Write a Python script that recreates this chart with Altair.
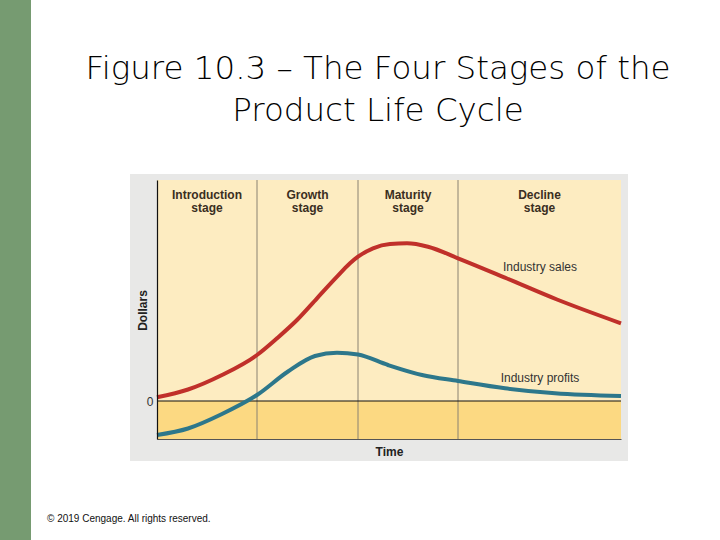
import altair as alt
import pandas as pd

# ---------------- data ----------------
title_text = "Figure 10.3 – The Four Stages of the\nProduct Life Cycle"
footer_text = "© 2019 Cengage. All rights reserved."

stage_names = ["Introduction\nstage", "Growth\nstage", "Maturity\nstage", "Decline\nstage"]
stage_bounds = [0, 100, 201, 301, 464]

sales_t = [0, 31, 65, 100, 120, 140, 160, 180, 193, 201, 216, 233, 250, 271, 301, 350, 400, 464]
sales_v = [3.7, 11.5, 26, 46, 62.7, 81, 102.7, 124.3, 137.7, 144.3, 152.7, 157, 157.7, 154.3, 142.7, 122.5, 101.5, 77.7]
profit_t = [0, 31, 65, 100, 131, 158, 180, 201, 231, 265, 301, 348, 398, 464]
profit_v = [-34, -27.5, -13, 6, 29.5, 45, 48.3, 46.5, 36, 26, 20, 12.7, 7.7, 5]

series_names = ["Industry sales", "Industry profits"]
series_colors = ["#c0302a", "#2d778b"]
label_t = [383, 383]
label_v = [134, 23]

x_domain = [0, 464]
y_domain = [-38, 221]

# ---------------- tables ----------------
stages = pd.DataFrame({
    "stage": stage_names,
    "start": stage_bounds[:-1],
    "end": stage_bounds[1:],
})
stages["mid"] = (stages["start"] + stages["end"]) / 2
dividers = pd.DataFrame({"t": stage_bounds[1:-1]})

lines = pd.concat([
    pd.DataFrame({"series": series_names[0], "t": sales_t, "v": sales_v}),
    pd.DataFrame({"series": series_names[1], "t": profit_t, "v": profit_v}),
], ignore_index=True)
labels = pd.DataFrame({"series": series_names, "t": label_t, "v": label_v})
one = pd.DataFrame({"k": [0]})

FONT = "Liberation Sans"
W, H = 464, 259

xs = alt.Scale(domain=x_domain, nice=False, zero=False)
ys = alt.Scale(domain=y_domain, nice=False, zero=False)

x_axis = alt.Axis(title="Time", labels=False, ticks=False, grid=False,
                  domainColor="#555555", domainWidth=1.2, zindex=1,
                  titleFont=FONT, titleFontSize=12, titleFontWeight="bold",
                  titleColor="#222222", titleBaseline="top", titleY=7)
y_axis = alt.Axis(title="Dollars", values=[0], ticks=False, grid=False,
                  domainColor="#111111", domainWidth=1.2, zindex=1,
                  labelFont=FONT, labelFontSize=12, labelColor="#333333", labelPadding=4,
                  titleFont=FONT, titleFontSize=12, titleFontWeight="bold",
                  titleColor="#222222", titleAngle=270, titleAlign="center",
                  titleBaseline="alphabetic", titleX=-11, titleY=130)

# decorations
green_bar = alt.Chart(one).mark_rect(color="#769b71").encode(
    x=alt.value(-157), x2=alt.value(-126), y=alt.value(-180), y2=alt.value(360))
panel = alt.Chart(one).mark_rect(color="#e8e8e7").encode(
    x=alt.value(-27), x2=alt.value(471), y=alt.value(-6), y2=alt.value(281))
title = alt.Chart(one).mark_text(
    text=title_text, lineBreak="\n", lineHeight=42, font="DejaVu Sans", fontSize=32.5,
    fontWeight=200, color="#000000", align="center", baseline="alphabetic").encode(
    x=alt.value(221), y=alt.value(-101))
footer = alt.Chart(one).mark_text(
    text=footer_text, font=FONT, fontSize=10, color="#111111",
    align="left", baseline="middle").encode(
    x=alt.value(-110), y=alt.value(339))

# plot area
upper = alt.Chart(stages).mark_rect(color="#fdecc1").encode(
    x=alt.X("start:Q", scale=xs, axis=x_axis), x2="end:Q",
    y=alt.Y(datum=0, scale=ys, axis=y_axis), y2=alt.value(0))
lower = alt.Chart(stages).mark_rect(color="#fcd982").encode(
    x=alt.X("start:Q", scale=xs), x2="end:Q",
    y=alt.Y(datum=0, scale=ys), y2=alt.value(H))
divs = alt.Chart(dividers).mark_rule(color="#8a8272", strokeWidth=1).encode(
    x=alt.X("t:Q", scale=xs))
zero = alt.Chart(one).mark_rule(color="#111111", strokeWidth=1.2).encode(
    y=alt.Y(datum=0, scale=ys))
curves = alt.Chart(lines).mark_line(interpolate="monotone", strokeWidth=4, strokeCap="butt").encode(
    x=alt.X("t:Q", scale=xs),
    y=alt.Y("v:Q", scale=ys),
    color=alt.Color("series:N", scale=alt.Scale(domain=series_names, range=series_colors), legend=None),
    detail="series:N")
stage_text = alt.Chart(stages).mark_text(
    lineBreak="\n", lineHeight=12.5, font=FONT, fontSize=12, fontWeight="bold",
    color="#3a2e22", align="center", baseline="alphabetic").encode(
    x=alt.X("mid:Q", scale=xs), y=alt.value(19.3), text="stage:N")
curve_labels = alt.Chart(labels).mark_text(
    font=FONT, fontSize=12, color="#333333", align="center", baseline="middle").encode(
    x=alt.X("t:Q", scale=xs), y=alt.Y("v:Q", scale=ys), text="series:N")

chart = alt.layer(
    green_bar, panel, title, footer, upper, lower, divs, zero, curves, stage_text, curve_labels
).properties(
    width=W, height=H,
    autosize=alt.AutoSizeParams(type="none"),
    padding={"left": 157, "top": 180, "right": 99, "bottom": 101},
    background="white",
).configure_view(stroke=None).configure_axis(grid=False)

chart.save("out.html", embed_options={"renderer": "svg", "actions": False})
